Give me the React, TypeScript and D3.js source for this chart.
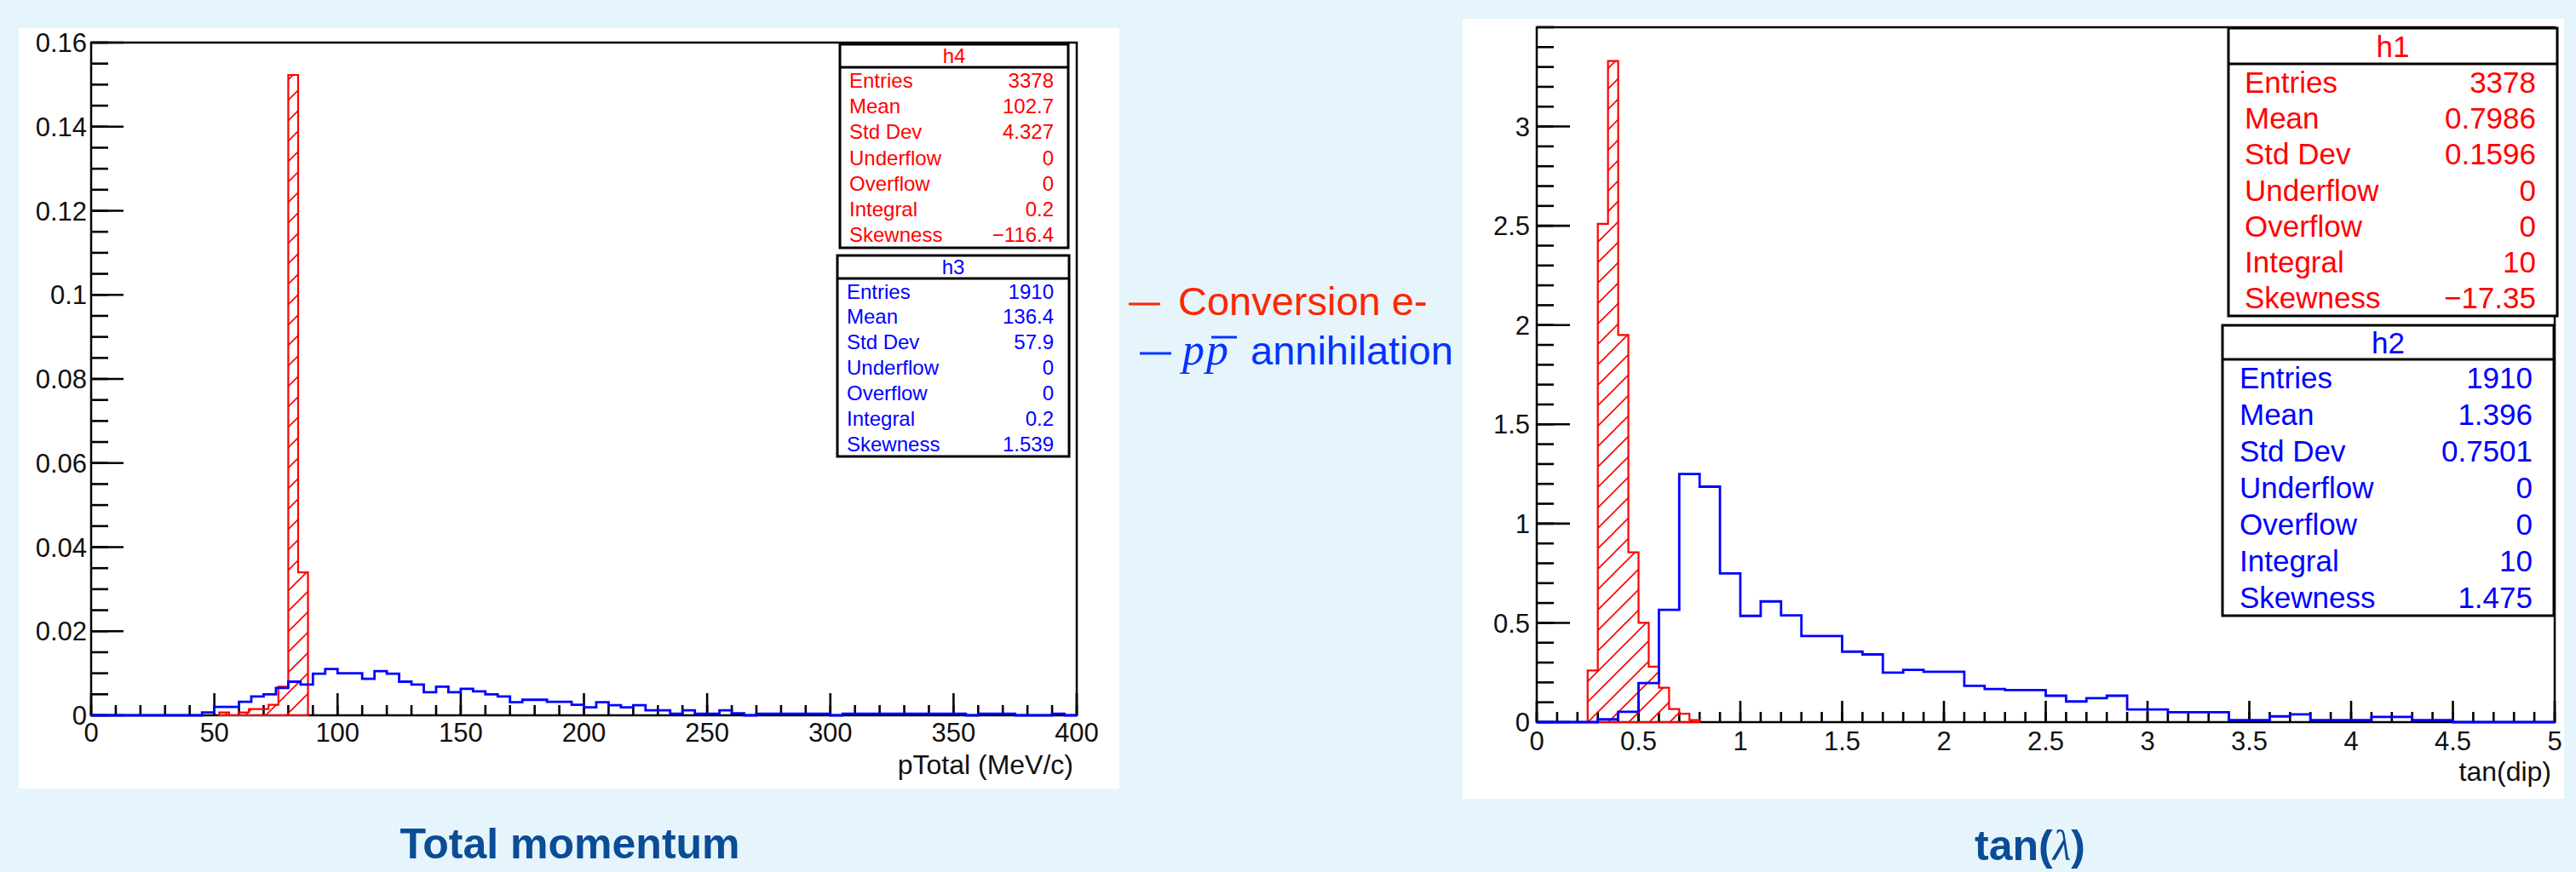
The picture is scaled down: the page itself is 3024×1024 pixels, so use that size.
import React from "react";
import * as d3 from "d3";

// ---- data ----
// Total momentum: pTotal (MeV/c), blue h3 bins of 5 starting at 0
const momAnnStart = 0;
const momAnnWidth = 5;
const momAnnihilation = [
  0, 0, 0, 0, 0, 0, 0, 0, 0, 0.0007,
  0.002, 0.002, 0.0032, 0.0045, 0.005, 0.0065, 0.008, 0.0073, 0.0099, 0.011,
  0.01, 0.01, 0.0087, 0.0105, 0.0099, 0.008, 0.0073, 0.0055, 0.0068, 0.0055,
  0.0063, 0.0057, 0.005, 0.0045, 0.0031, 0.0037, 0.0037, 0.0032, 0.0032, 0.0025,
  0.0019, 0.0031, 0.0024, 0.0019, 0.0024, 0.0012, 0.0012, 0.0004, 0.0012, 0.0004,
  0.0004, 0.0012, 0.0005, 0, 0.0004, 0.0004, 0.0004, 0.0004, 0.0004, 0.0004,
  0, 0.0004, 0.0004, 0.0004, 0.0004, 0.0004, 0.0004, 0.0004, 0.0004, 0.0004,
  0.0004, 0, 0.0004, 0.0004, 0.0004, 0, 0, 0, 0.0004, 0,
];
// red h4 bins of 4 starting at 52
const momConvStart = 52;
const momConvWidth = 4;
const momConversion = [0.0007, 0, 0.0007, 0.0015, 0.0015, 0.0025, 0.0068, 0.1523, 0.034];

// tan(dip): blue h2 bins of 0.1 starting at 0
const dipAnnStart = 0;
const dipAnnWidth = 0.1;
const dipAnnihilation = [
  0, 0, 0, 0.014, 0.052, 0.197, 0.566, 1.25, 1.186, 0.749,
  0.535, 0.608, 0.538, 0.434, 0.434, 0.355, 0.341, 0.249, 0.263, 0.254,
  0.254, 0.183, 0.167, 0.161, 0.161, 0.133, 0.104, 0.121, 0.133, 0.064,
  0.064, 0.05, 0.05, 0.05, 0.01, 0.01, 0.029, 0.039, 0.01, 0.01,
  0.01, 0.026, 0.026, 0.01, 0.01, 0, 0, 0, 0, 0,
];
// red h1 bins of 0.05 starting at 0.25
const dipConvStart = 0.25;
const dipConvWidth = 0.05;
const dipConversion = [0.26, 2.51, 3.33, 1.95, 0.855, 0.5, 0.279, 0.173, 0.066, 0.042, 0.01];

const momXTicks = [0, 50, 100, 150, 200, 250, 300, 350, 400];
const momYTicks = [0, 0.02, 0.04, 0.06, 0.08, 0.1, 0.12, 0.14, 0.16];
const dipXTicks = [0, 0.5, 1, 1.5, 2, 2.5, 3, 3.5, 4, 4.5, 5];
const dipYTicks = [0, 0.5, 1, 1.5, 2, 2.5, 3];

const statLabels = ["Entries", "Mean", "Std Dev", "Underflow", "Overflow", "Integral", "Skewness"];
const h4Values = ["3378", "102.7", "4.327", "0", "0", "0.2", "\u2212116.4"];
const h3Values = ["1910", "136.4", "57.9", "0", "0", "0.2", "1.539"];
const h1Values = ["3378", "0.7986", "0.1596", "0", "0", "10", "\u221217.35"];
const h2Values = ["1910", "1.396", "0.7501", "0", "0", "10", "1.475"];

const SANS = "'Liberation Sans', Arial, Helvetica, sans-serif";
const SERIF = "'Liberation Serif', 'Times New Roman', serif";
const RED = "#ff0000";
const BLUE = "#0000ff";

type Scale = d3.ScaleLinear<number, number>;

function stepPath(x: Scale, y: Scale, start: number, width: number, values: number[], close: boolean) {
  const pts: [number, number][] = [[x(start), y(0)]];
  values.forEach((v, i) => {
    pts.push([x(start + i * width), y(v)]);
    pts.push([x(start + (i + 1) * width), y(v)]);
  });
  pts.push([x(start + values.length * width), y(0)]);
  return d3.line()(pts)! + (close ? "Z" : "");
}

interface AxesProps {
  x: Scale;
  y: Scale;
  xTicks: number[];
  yTicks: number[];
  xMinorCount: number;
  yMinorCount: number;
  xMajorLen: number;
  xMinorLen: number;
  yMajorLen: number;
  yMinorLen: number;
  xLabelY: number;
  yLabelGap: number;
  title: string;
  titleY: number;
}

function Axes(p: AxesProps) {
  const [x0, x1] = p.x.range();
  const [y0, y1] = p.y.range();
  const xMinor = p.x.ticks(p.xMinorCount);
  const yMinor = p.y.ticks(p.yMinorCount);
  const fmt = d3.format("~g");
  return (
    <g>
      <rect x={x0} y={y1} width={x1 - x0} height={y0 - y1} fill="none" stroke="#000" strokeWidth={2.5} />
      {xMinor.map((t) => (
        <line key={"xm" + t} x1={p.x(t)} x2={p.x(t)} y1={y0} y2={y0 - p.xMinorLen} stroke="#000" strokeWidth={2.6} />
      ))}
      {p.xTicks.map((t) => (
        <line key={"xM" + t} x1={p.x(t)} x2={p.x(t)} y1={y0} y2={y0 - p.xMajorLen} stroke="#000" strokeWidth={2.6} />
      ))}
      {yMinor.map((t) => (
        <line key={"ym" + t} x1={x0} x2={x0 + p.yMinorLen} y1={p.y(t)} y2={p.y(t)} stroke="#000" strokeWidth={2.6} />
      ))}
      {p.yTicks.map((t) => (
        <line key={"yM" + t} x1={x0} x2={x0 + p.yMajorLen} y1={p.y(t)} y2={p.y(t)} stroke="#000" strokeWidth={2.6} />
      ))}
      {p.xTicks.map((t) => (
        <text key={"xl" + t} x={p.x(t)} y={p.xLabelY} dy="0.36em" textAnchor="middle" fontFamily={SANS} fontSize={31} fill="#111">
          {fmt(t)}
        </text>
      ))}
      {p.yTicks.map((t) => (
        <text key={"yl" + t} x={x0 - p.yLabelGap} y={p.y(t)} dy="0.36em" textAnchor="end" fontFamily={SANS} fontSize={31} fill="#111">
          {fmt(t)}
        </text>
      ))}
      <text x={x1 - 4} y={p.titleY} dy="0.36em" textAnchor="end" fontFamily={SANS} fontSize={32} fill="#111">
        {p.title}
      </text>
    </g>
  );
}

interface StatProps {
  name: string;
  values: string[];
  color: string;
  x0: number;
  x1: number;
  y0: number;
  yDiv: number;
  y1: number;
  fontSize: number;
  padL: number;
  padR: number;
}

function StatBox(s: StatProps) {
  const rowH = (s.y1 - s.yDiv) / statLabels.length;
  return (
    <g fontFamily={SANS} fontSize={s.fontSize} fill={s.color}>
      <rect x={s.x0} y={s.y0} width={s.x1 - s.x0} height={s.y1 - s.y0} fill="#fff" stroke="#000" strokeWidth={3} />
      <line x1={s.x0} x2={s.x1} y1={s.yDiv} y2={s.yDiv} stroke="#000" strokeWidth={3} />
      <text x={(s.x0 + s.x1) / 2} y={(s.y0 + s.yDiv) / 2} dy="0.36em" textAnchor="middle">
        {s.name}
      </text>
      {statLabels.map((l, i) => (
        <g key={l}>
          <text x={s.x0 + s.padL} y={s.yDiv + (i + 0.5) * rowH} dy="0.36em">
            {l}
          </text>
          <text x={s.x1 - s.padR} y={s.yDiv + (i + 0.5) * rowH} dy="0.36em" textAnchor="end">
            {s.values[i]}
          </text>
        </g>
      ))}
    </g>
  );
}

export default function App() {
  const momX = d3.scaleLinear().domain([0, 400]).range([107, 1264]);
  const momY = d3.scaleLinear().domain([0, 0.16]).range([840, 50]);
  const dipX = d3.scaleLinear().domain([0, 5]).range([1804, 2999]);
  const dipY = d3.scaleLinear().domain([0, 3.5]).range([848, 32]);

  return (
    <svg width={3024} height={1024} style={{ position: "absolute", left: 0, top: 0 }}>
      <defs>
        <pattern id="hatch" patternUnits="userSpaceOnUse" width={24} height={24}>
          <path d="M-6,6 L6,-6 M0,24 L24,0 M18,30 L30,18" stroke={RED} strokeWidth={1.6} />
        </pattern>
      </defs>
      <rect width={3024} height={1024} fill="#e6f5fc" />

      {/* left panel: total momentum */}
      <rect x={22} y={33} width={1292} height={893} fill="#fff" />
      <Axes
        x={momX}
        y={momY}
        xTicks={momXTicks}
        yTicks={momYTicks}
        xMinorCount={40}
        yMinorCount={32}
        xMajorLen={26}
        xMinorLen={12}
        yMajorLen={38}
        yMinorLen={20}
        xLabelY={860}
        yLabelGap={5}
        title="pTotal (MeV/c)"
        titleY={897}
      />
      <path d={stepPath(momX, momY, momConvStart, momConvWidth, momConversion, true)} fill="url(#hatch)" stroke={RED} strokeWidth={2.2} />
      <path d={stepPath(momX, momY, momAnnStart, momAnnWidth, momAnnihilation, false)} fill="none" stroke={BLUE} strokeWidth={2.8} />
      <StatBox name="h4" values={h4Values} color={RED} x0={986} x1={1254} y0={52} yDiv={79} y1={291} fontSize={24} padL={11} padR={17} />
      <StatBox name="h3" values={h3Values} color={BLUE} x0={983} x1={1255} y0={300} yDiv={327} y1={536} fontSize={24} padL={11} padR={18} />

      {/* right panel: tan(dip) */}
      <rect x={1717} y={22} width={1293} height={916} fill="#fff" />
      <Axes
        x={dipX}
        y={dipY}
        xTicks={dipXTicks}
        yTicks={dipYTicks}
        xMinorCount={50}
        yMinorCount={35}
        xMajorLen={25}
        xMinorLen={12}
        yMajorLen={39}
        yMinorLen={20}
        xLabelY={870}
        yLabelGap={8}
        title="tan(dip)"
        titleY={905}
      />
      <path d={stepPath(dipX, dipY, dipConvStart, dipConvWidth, dipConversion, true)} fill="url(#hatch)" stroke={RED} strokeWidth={2.2} />
      <path d={stepPath(dipX, dipY, dipAnnStart, dipAnnWidth, dipAnnihilation, false)} fill="none" stroke={BLUE} strokeWidth={2.8} />
      <StatBox name="h1" values={h1Values} color={RED} x0={2616} x1={3002} y0={33} yDiv={75} y1={371} fontSize={35} padL={19} padR={25} />
      <StatBox name="h2" values={h2Values} color={BLUE} x0={2609} x1={2998} y0={382} yDiv={422} y1={723} fontSize={35} padL={20} padR={25} />

      {/* legend */}
      <line x1={1325} x2={1362} y1={357} y2={357} stroke="#ff2600" strokeWidth={3} />
      <text x={1383} y={370} fontFamily={SANS} fontSize={47} fill="#ff2600">
        Conversion e-
      </text>
      <line x1={1338} x2={1375} y1={415} y2={415} stroke="#0433ff" strokeWidth={3} />
      <text x={1388} y={428} fontFamily={SERIF} fontStyle="italic" fontSize={52} fill="#0433ff">
        p
      </text>
      <text x={1416} y={428} fontFamily={SERIF} fontStyle="italic" fontSize={52} fill="#0433ff">
        p
      </text>
      <line x1={1422} x2={1452} y1={396} y2={396} stroke="#0433ff" strokeWidth={3} />
      <text x={1468} y={428} fontFamily={SANS} fontSize={47} fill="#0433ff">
        annihilation
      </text>

      {/* slide captions */}
      <text x={669} y={1008} textAnchor="middle" fontFamily={SANS} fontWeight="bold" fontSize={50} fill="#0a4c96">
        Total momentum
      </text>
      <text x={2383} y={1010} textAnchor="middle" fontFamily={SANS} fontWeight="bold" fontSize={50} fill="#0a4c96">
        tan(
        <tspan fontFamily={SERIF} fontStyle="italic" fontWeight="normal">
          λ
        </tspan>
        )
      </text>
    </svg>
  );
}
